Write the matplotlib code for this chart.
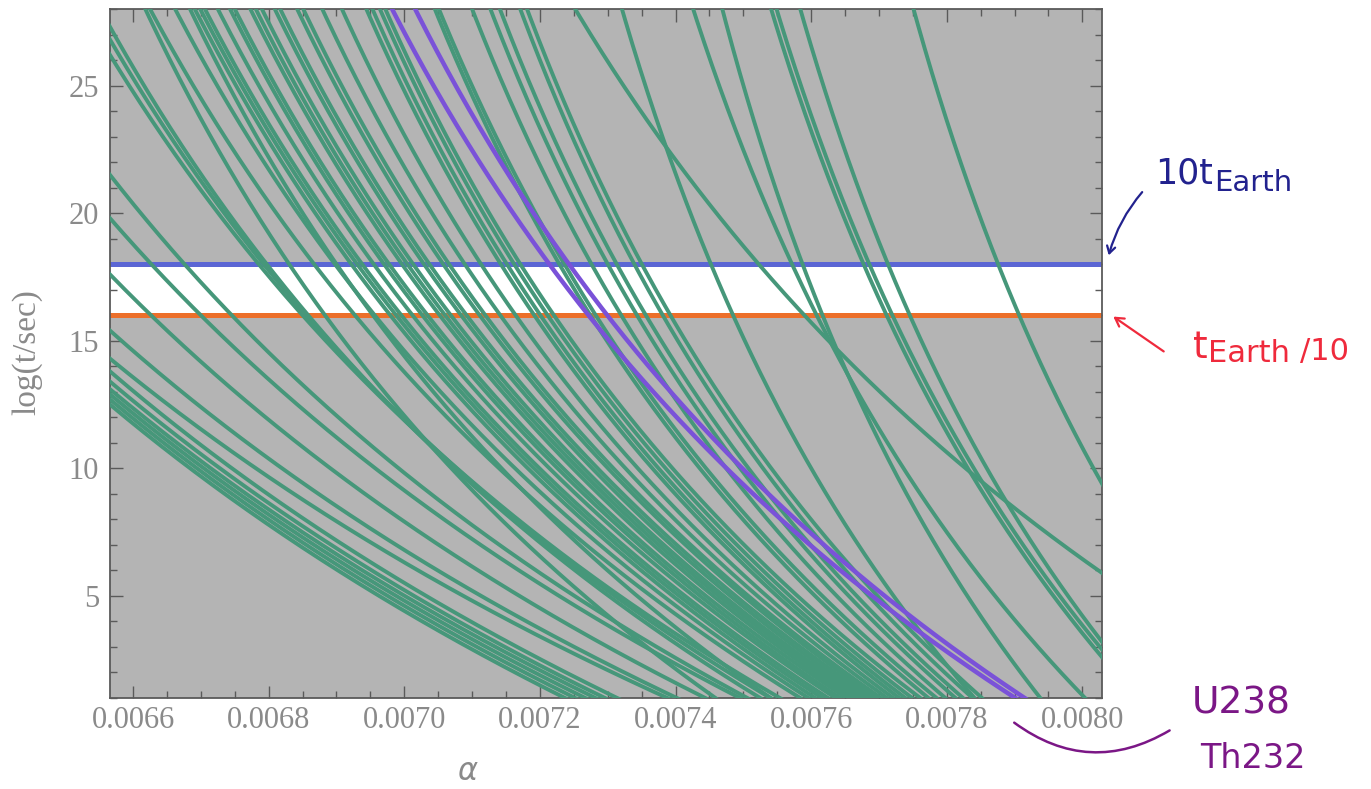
import numpy as np
import matplotlib
matplotlib.use("Agg")
import matplotlib.pyplot as plt
from matplotlib.ticker import MultipleLocator, FormatStrFormatter

# ---- axis ranges -------------------------------------------------------
alpha_lim = (0.006566, 0.008029)
logt_lim = (1.0, 28.0)

# log10 of lifetimes bracketing the age of the Earth
logt_earth_over_10 = 16.0
logt_10_earth = 18.0

# ---- green nuclei: where each curve enters and leaves the frame ---------
green_in_alpha = [
    # lower left family (enter through the left side)
    0.006566, 0.006566, 0.006566, 0.006566, 0.006566, 0.006566, 0.006566, 0.006566,
    0.006566, 0.006566, 0.006566,
    0.006566, 0.006566, 0.006566,
    # enter through the top
    0.006618, 0.006684,
    0.006625, 0.006662, 0.006691, 0.006699, 0.006706, 0.006725, 0.006743, 0.006750,
    0.006773, 0.006781, 0.006790, 0.006809, 0.006817, 0.006842, 0.006851, 0.006879,
    0.006908, 0.006944, 0.006953, 0.006964, 0.006972, 0.007045, 0.007051, 0.007100,
    0.007127, 0.007141, 0.007171, 0.007181,
    # steep right-hand family
    0.007252, 0.007321, 0.007426, 0.007469, 0.007541, 0.007549, 0.007584, 0.007751,
]
green_in_logt = [
    15.4, 14.3, 13.8, 13.4, 13.1, 12.9, 12.7, 12.5,
    17.6, 19.8, 21.5,
    27.3, 26.8, 26.2,
    28, 28,
    28, 28, 28, 28, 28, 28, 28, 28,
    28, 28, 28, 28, 28, 28, 28, 28,
    28, 28, 28, 28, 28, 28, 28, 28,
    28, 28, 28, 28,
    28, 28, 28, 28, 28, 28, 28, 28,
]
green_out_alpha = [
    0.007402, 0.007388, 0.007314, 0.007296, 0.007282, 0.007267, 0.007252, 0.007237,
    0.007444, 0.007495, 0.007506,
    0.007525, 0.007540, 0.007554,
    0.007459, 0.007540,
    0.007584, 0.007596, 0.007606, 0.007616, 0.007625, 0.007636, 0.007643, 0.007652,
    0.007659, 0.007667, 0.007674, 0.007681, 0.007689, 0.007696, 0.007703, 0.007712,
    0.007721, 0.007730, 0.007739, 0.007749, 0.007761, 0.007773, 0.007785, 0.007798,
    0.007813, 0.007824, 0.007838, 0.007852,
    0.008029, 0.007841, 0.008004, 0.007938, 0.008029, 0.008029, 0.008029, 0.008029,
]
green_out_logt = [
    1, 1, 1, 1, 1, 1, 1, 1,
    1, 1, 1,
    1, 1, 1,
    1, 1,
    1, 1, 1, 1, 1, 1, 1, 1,
    1, 1, 1, 1, 1, 1, 1, 1,
    1, 1, 1, 1, 1, 1, 1, 1,
    1, 1, 1, 1,
    5.9, 1, 1, 1, 2.6, 2.9, 3.2, 9.4,
]

# ---- U238 and Th232 ------------------------------------------------------
purple_in_alpha = [0.006982, 0.007016]
purple_in_logt = [28.0, 28.0]
purple_out_alpha = [0.007901, 0.007915]
purple_out_logt = [1.0, 1.0]

# Geiger-Nuttall form: log t = K / sqrt(alpha - alpha_c) - GN_OFFSET
GN_OFFSET = 60.0

GREEN = "#46977a"
PURPLE = "#7a52d8"
BLUE = "#5b66d4"
ORANGE = "#ec6f2a"
FRAME = "#5a5a5a"
LABEL = "#8a8a8a"


def gn_curve(a1, v1, a2, v2, n=500):
    """Geiger-Nuttall curve through two points, sampled across the frame."""
    r = ((v1 + GN_OFFSET) / (v2 + GN_OFFSET)) ** 2
    c = (r * a1 - a2) / (r - 1.0)
    k = (v1 + GN_OFFSET) * np.sqrt(a1 - c)
    lo = alpha_lim[0] - 2e-5
    hi = alpha_lim[1] + 2e-5
    a_start = max(lo, c + (k / (logt_lim[1] + 1.0 + GN_OFFSET)) ** 2)
    a_end = min(hi, c + (k / (logt_lim[0] - 1.0 + GN_OFFSET)) ** 2)
    a = np.linspace(a_start, a_end, n)
    return a, k / np.sqrt(a - c) - GN_OFFSET


fig = plt.figure(figsize=(13.71, 7.89), dpi=100)
ax = fig.add_axes([110 / 1371, 1 - 698 / 789, 992 / 1371, 689 / 789])
ax.set_facecolor("#b4b4b4")
ax.set_xlim(*alpha_lim)
ax.set_ylim(*logt_lim)

# white band between t_Earth/10 and 10 t_Earth
ax.axhspan(logt_earth_over_10, logt_10_earth, color="white", zorder=1)
ax.axhline(logt_10_earth, color=BLUE, lw=3.6, zorder=2)
ax.axhline(logt_earth_over_10, color=ORANGE, lw=3.6, zorder=2)

for a1, v1, a2, v2 in zip(green_in_alpha, green_in_logt, green_out_alpha, green_out_logt):
    a, v = gn_curve(a1, v1, a2, v2)
    ax.plot(a, v, color=GREEN, lw=2.8, zorder=3, solid_capstyle="butt")

for a1, v1, a2, v2 in zip(purple_in_alpha, purple_in_logt, purple_out_alpha, purple_out_logt):
    a, v = gn_curve(a1, v1, a2, v2)
    ax.plot(a, v, color=PURPLE, lw=3.2, zorder=4, solid_capstyle="butt")

# ---- ticks and frame ------------------------------------------------------
serif = ["Liberation Serif", "DejaVu Serif"]
ax.xaxis.set_major_locator(MultipleLocator(0.0002))
ax.xaxis.set_minor_locator(MultipleLocator(0.00005))
ax.xaxis.set_major_formatter(FormatStrFormatter("%.4f"))
ax.yaxis.set_major_locator(MultipleLocator(5))
ax.yaxis.set_minor_locator(MultipleLocator(1))
ax.tick_params(which="both", direction="in", top=True, right=True, color=FRAME, width=1.0)
ax.tick_params(which="major", length=9)
ax.tick_params(which="minor", length=5)
ax.tick_params(axis="x", which="major", pad=6, labelsize=22, labelcolor=LABEL)
ax.tick_params(axis="y", which="major", pad=8, labelsize=22, labelcolor=LABEL)
for lab in ax.get_xticklabels() + ax.get_yticklabels():
    lab.set_family(serif)
for sp in ax.spines.values():
    sp.set_color(FRAME)
    sp.set_linewidth(1.3)

fig.text(27 / 1371, 1 - 352 / 789, "log(t/sec)", rotation=90, ha="center", va="center",
         fontsize=24, color=LABEL, family=serif)
fig.text(468 / 1371, 1 - 772 / 789, r"$\alpha$", ha="center", va="center",
         fontsize=22, color=LABEL, family=serif)

# ---- hand-written notes -----------------------------------------------------
NAVY = "#22228e"
RED = "#ef2a3c"
PLUM = "#7b1786"
note_font = ["DejaVu Sans"]


def px(x, y):
    """Figure fraction from pixel position measured from the top-left corner."""
    return x / 1371, 1 - y / 789


fig.text(*px(1155, 184), "10t", ha="left", va="baseline", fontsize=25, color=NAVY,
         family=note_font)
fig.text(*px(1214, 191), "Earth", ha="left", va="baseline", fontsize=21, color=NAVY,
         family=note_font)
ax.annotate("", xy=(1108, 789 - 258), xytext=(1144, 789 - 190),
            xycoords="figure pixels", textcoords="figure pixels",
            arrowprops=dict(arrowstyle="->,head_length=0.5,head_width=0.3", color=NAVY, lw=1.6,
                            connectionstyle="arc3,rad=0.12"))

fig.text(*px(1193, 358), "t", ha="left", va="baseline", fontsize=27, color=RED,
         family=note_font)
fig.text(*px(1208, 362), "Earth", ha="left", va="baseline", fontsize=22, color=RED,
         family=note_font)
fig.text(*px(1300, 360), "/10", ha="left", va="baseline", fontsize=22, color=RED,
         family=note_font)
ax.annotate("", xy=(1111, 789 - 315), xytext=(1166, 789 - 353),
            xycoords="figure pixels", textcoords="figure pixels",
            arrowprops=dict(arrowstyle="->,head_length=0.6,head_width=0.35", color=RED, lw=1.6))

fig.text(*px(1192, 713), "U238", ha="left", va="baseline", fontsize=27, color=PLUM,
         family=note_font)
fig.text(*px(1200, 768), "Th232", ha="left", va="baseline", fontsize=24, color=PLUM,
         family=note_font)
ax.annotate("", xy=(1172, 789 - 729), xytext=(1012, 789 - 721),
            xycoords="figure pixels", textcoords="figure pixels",
            arrowprops=dict(arrowstyle="-", color=PLUM, lw=1.8,
                            connectionstyle="arc3,rad=0.34"))

fig.savefig("out.png", dpi=100, facecolor="white")
